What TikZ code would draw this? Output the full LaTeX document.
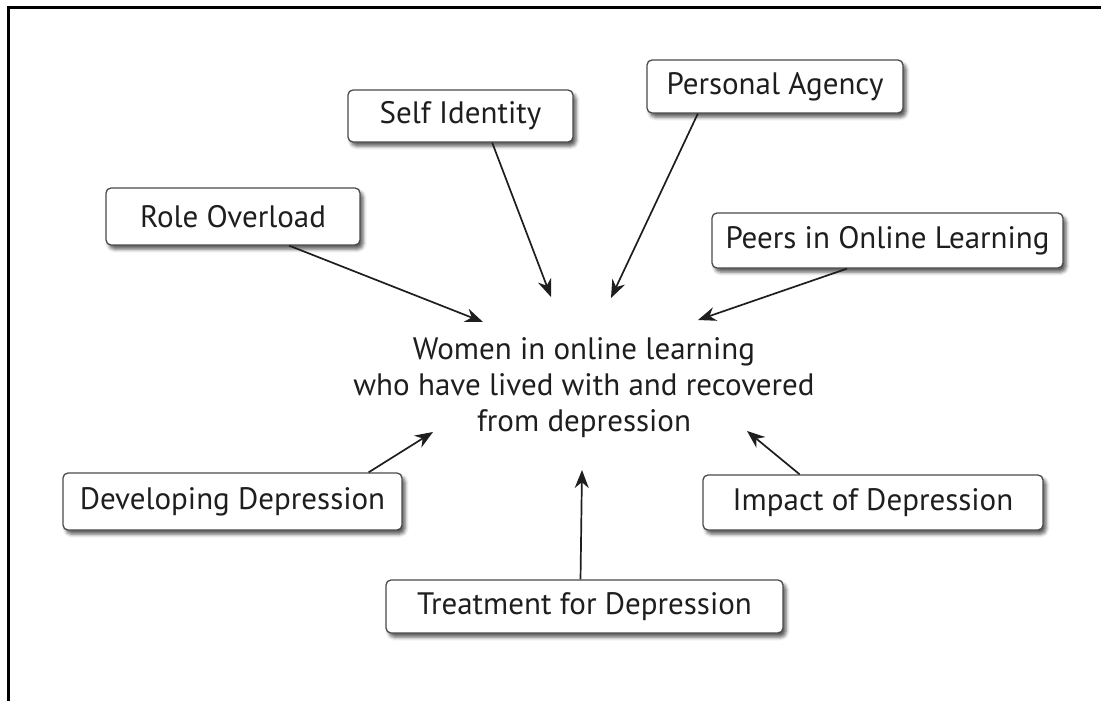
\documentclass[tikz,border=0pt]{standalone}
\usepackage{fontspec}
\setmainfont{PT Sans}
\usetikzlibrary{arrows.meta,calc,shadows.blur}
\definecolor{ink}{HTML}{1E1E1E}
\definecolor{edge}{HTML}{4A4A4A}
\tikzset{
  topic/.style={draw=edge, line width=1.3pt, rounded corners=5pt, fill=white,
    inner sep=0pt, text=ink, font=\fontsize{31}{36}\selectfont,
    blur shadow={shadow xshift=3pt, shadow yshift=-4pt, shadow blur radius=3.5pt, shadow opacity=65}},
  link/.style={draw=ink, line width=1.7pt, -{Stealth[length=18pt,width=14pt]}},
  frameline/.style={draw=black, line width=3pt}
}
\begin{document}
\begin{tikzpicture}[x=1pt,y=-1pt]
  \useasboundingbox (0,0) rectangle (1101,701);
  % frame along the top and left edges
  \coordinate (fTL) at (8.5,7.5);
  \coordinate (fTR) at (1101,7.5);
  \coordinate (fBL) at (8.5,701);
  \draw[frameline] (fTR) -- (fTL) -- (fBL);

  % central theme
  \node[text=ink, align=center, font=\fontsize{31}{36}\selectfont] (core) at (584,388)
    {Women in online learning\\who have lived with and recovered\\from depression};

  % surrounding topics
  \node[topic, minimum width=254pt, minimum height=57pt] (ro) at (233,216.5) {Role Overload};
  \node[topic, minimum width=225pt, minimum height=52pt] (si) at (460.5,116) {Self Identity};
  \node[topic, minimum width=256pt, minimum height=53pt] (pa) at (775,86.5) {Personal Agency};
  \node[topic, minimum width=351pt, minimum height=55pt] (pe) at (887.5,240.5) {Peers in Online Learning};
  \node[topic, minimum width=339pt, minimum height=57pt] (dd) at (232.5,501.5) {Developing Depression};
  \node[topic, minimum width=340pt, minimum height=55pt] (im) at (873,502.5) {Impact of Depression};
  \node[topic, minimum width=397pt, minimum height=53pt] (tr) at (584.5,606.5) {Treatment for Depression};

  % arrow tips around the central theme
  \coordinate (tRo) at (483,322);
  \coordinate (tSi) at (551,297);
  \coordinate (tPa) at (611,298);
  \coordinate (tPe) at (698,320);
  \coordinate (tDd) at (433,432);
  \coordinate (tIm) at (747,431);
  \coordinate (tTr) at (582,470);

  \draw[link] ($(ro.south west)!0.72!(ro.south east)$) -- (tRo);
  \draw[link] ($(si.south west)!0.64!(si.south east)$) -- (tSi);
  \draw[link] ($(pa.south west)!0.20!(pa.south east)$) -- (tPa);
  \draw[link] ($(pe.south west)!0.385!(pe.south east)$) -- (tPe);
  \draw[link] ($(dd.north west)!0.90!(dd.north east)$) -- (tDd);
  \draw[link] ($(im.north west)!0.285!(im.north east)$) -- (tIm);
  \draw[link] ($(tr.north west)!0.49!(tr.north east)$) -- (tTr);
\end{tikzpicture}
\end{document}
